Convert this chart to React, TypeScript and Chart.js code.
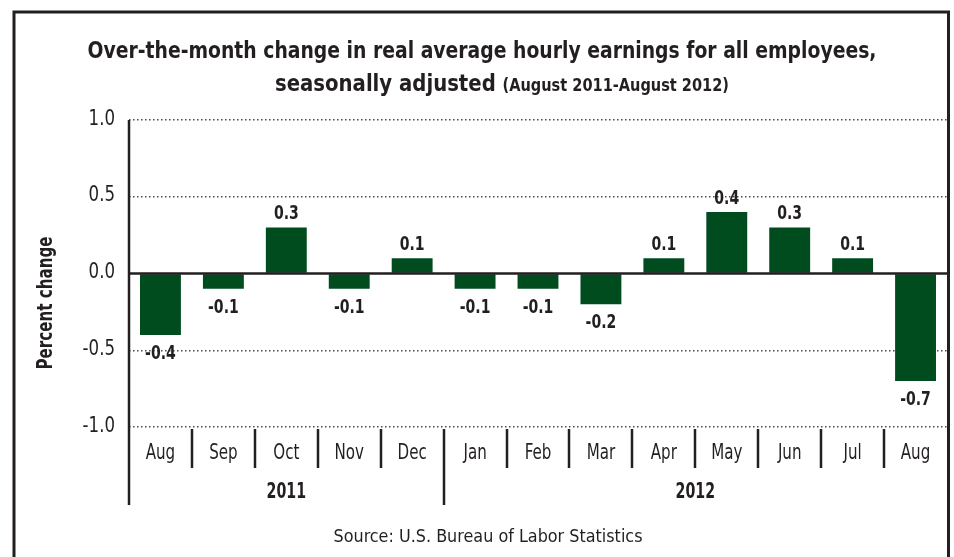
import React, { useEffect, useRef } from "react";
import { Chart, registerables } from "chart.js";

Chart.register(...registerables);

const months = ["Aug", "Sep", "Oct", "Nov", "Dec", "Jan", "Feb", "Mar", "Apr", "May", "Jun", "Jul", "Aug"];
const values = [-0.4, -0.1, 0.3, -0.1, 0.1, -0.1, -0.1, -0.2, 0.1, 0.4, 0.3, 0.1, -0.7];
const years = ["2011", "2012"];
const yearStarts = [0, 5];
const yTicks = [-1.0, -0.5, 0.0, 0.5, 1.0];
const titleLine1 = "Over-the-month change in real average hourly earnings for all employees,";
const titleLine2a = "seasonally adjusted ";
const titleLine2b = "(August 2011-August 2012)";
const yTitle = "Percent change";
const sourceText = "Source: U.S. Bureau of Labor Statistics";

const NARROW = '"Liberation Sans Narrow", "DejaVu Sans Condensed", "Arial Narrow", sans-serif';
const INK = "#231f20";
const BAR = "#014c1f";
const W = 954;
const H = 557;

// draw text horizontally compressed by sx
function drawText(ctx: any, text: string, x: number, y: number, font: string, sx: number, align: string, baseline: string) {
  ctx.save();
  ctx.font = font;
  ctx.textAlign = align;
  ctx.textBaseline = baseline;
  ctx.translate(x, y);
  ctx.scale(sx, 1);
  ctx.fillText(text, 0, 0);
  ctx.restore();
}

function fitScale(ctx: any, text: string, font: string, width: number) {
  ctx.save();
  ctx.font = font;
  const w = ctx.measureText(text).width;
  ctx.restore();
  return width / w;
}

const decor = {
  id: "decor",
  beforeDraw(chart: any) {
    const { ctx } = chart;
    ctx.save();
    ctx.fillStyle = "#ffffff";
    ctx.fillRect(0, 0, chart.width, chart.height);
    ctx.restore();
  },
  afterDatasetsDraw(chart: any) {
    const { ctx, chartArea, scales } = chart;
    const x = scales.x;
    const y = scales.y;
    ctx.save();
    ctx.fillStyle = INK;

    // zero line
    const y0 = y.getPixelForValue(0);
    ctx.strokeStyle = INK;
    ctx.lineWidth = 2.5;
    ctx.beginPath();
    ctx.moveTo(chartArea.left, y0);
    ctx.lineTo(chart.width - 4, y0);
    ctx.stroke();

    // y tick labels
    y.ticks.forEach((t: any) => {
      drawText(ctx, Number(t.value).toFixed(1), chartArea.left - 14, y.getPixelForValue(t.value) - 1, `22px ${NARROW}`, 0.84, "right", "middle");
    });

    // x tick labels
    (chart.data.labels as string[]).forEach((m, i) => {
      drawText(ctx, m, x.getPixelForValue(i), chartArea.bottom + 27, `21px ${NARROW}`, 0.8, "center", "middle");
    });

    // value labels
    const meta = chart.getDatasetMeta(0);
    meta.data.forEach((bar: any, i: number) => {
      const v = values[i];
      const label = v.toFixed(1);
      if (v >= 0) {
        drawText(ctx, label, bar.x, bar.y - 8, `bold 20px ${NARROW}`, 0.78, "center", "alphabetic");
      } else {
        drawText(ctx, label, bar.x, bar.y + 19, `bold 20px ${NARROW}`, 0.78, "center", "middle");
      }
    });

    // y axis line
    ctx.strokeStyle = INK;
    ctx.lineWidth = 2.5;
    ctx.beginPath();
    ctx.moveTo(chartArea.left, chartArea.top);
    ctx.lineTo(chartArea.left, chartArea.bottom);
    ctx.stroke();

    // category separators
    const half = (x.getPixelForValue(1) - x.getPixelForValue(0)) / 2;
    ctx.lineWidth = 2.5;
    for (let i = 0; i < months.length; i++) {
      const xs = Math.round(x.getPixelForValue(i) - half);
      const long = yearStarts.includes(i);
      ctx.beginPath();
      ctx.moveTo(xs, chartArea.bottom + (i === 0 ? 0 : 2));
      ctx.lineTo(xs, chartArea.bottom + (long ? 78 : 41));
      ctx.stroke();
    }

    // year labels
    years.forEach((yr, k) => {
      const start = x.getPixelForValue(yearStarts[k]) - half;
      const endIdx = k + 1 < yearStarts.length ? yearStarts[k + 1] : months.length;
      const end = x.getPixelForValue(endIdx - 1) + half;
      drawText(ctx, yr, (start + end) / 2, chartArea.bottom + 66, `bold 21px ${NARROW}`, 0.75, "center", "middle");
    });

    // y title
    ctx.save();
    ctx.translate(47, 303);
    ctx.rotate(-Math.PI / 2);
    const yf = `bold 21px ${NARROW}`;
    drawText(ctx, yTitle, 0, 0, yf, fitScale(ctx, yTitle, yf, 133), "center", "middle");
    ctx.restore();

    // title
    const f1 = `bold 23px ${NARROW}`;
    drawText(ctx, titleLine1, 482, 58, f1, fitScale(ctx, titleLine1, f1, 789), "center", "alphabetic");
    const f2a = `bold 23px ${NARROW}`;
    const f2b = `bold 17px ${NARROW}`;
    ctx.font = f2a;
    const wa = ctx.measureText(titleLine2a).width;
    ctx.font = f2b;
    const wb = ctx.measureText(titleLine2b).width;
    const s2 = 454 / (wa + wb);
    const startX = 275;
    drawText(ctx, titleLine2a, startX, 91, f2a, s2, "left", "alphabetic");
    drawText(ctx, titleLine2b, startX + wa * s2, 91, f2b, s2, "left", "alphabetic");

    // source
    const fs = `18px ${NARROW}`;
    drawText(ctx, sourceText, 488, 537, fs, fitScale(ctx, sourceText, fs, 309), "center", "middle");

    // frame
    ctx.strokeStyle = INK;
    ctx.lineWidth = 3;
    ctx.beginPath();
    ctx.moveTo(14, H + 2);
    ctx.lineTo(14, 12);
    ctx.lineTo(948.5, 12);
    ctx.lineTo(948.5, H + 2);
    ctx.stroke();
    ctx.restore();
  },
};

export default function App() {
  const ref = useRef<HTMLCanvasElement | null>(null);
  useEffect(() => {
    if (!ref.current) return;
    const chart = new Chart(ref.current, {
      type: "bar",
      data: {
        labels: months,
        datasets: [
          {
            data: values,
            backgroundColor: BAR,
            borderWidth: 0,
            barPercentage: 0.65,
            categoryPercentage: 1,
          },
        ],
      },
      options: {
        animation: false,
        responsive: false,
        events: [],
        layout: { padding: { top: 120, right: 7, bottom: 0, left: 14 } },
        plugins: { legend: { display: false }, tooltip: { enabled: false }, title: { display: false } },
        scales: {
          x: {
            grid: { display: false, drawTicks: false },
            border: { display: false },
            ticks: { display: false, autoSkip: false },
            afterFit: (s: any) => {
              s.height = H - 427;
            },
          },
          y: {
            min: -1,
            max: 1,
            afterBuildTicks: (s: any) => {
              s.ticks = yTicks.map((v) => ({ value: v }));
            },
            grid: {
              color: (c: any) => (c.tick && c.tick.value === 0 ? "rgba(0,0,0,0)" : "#4a4a4a"),
              lineWidth: 1.5,
              drawTicks: false,
            },
            border: { display: false, dash: [1.5, 2.5] },
            ticks: { display: false },
            afterFit: (s: any) => {
              s.width = 129 - 14;
            },
          },
        },
      },
      plugins: [decor],
    });
    return () => chart.destroy();
  }, []);
  return (
    <div style={{ position: "absolute", left: 0, top: 0, width: W, height: H }}>
      <canvas ref={ref} width={W} height={H} style={{ display: "block" }} />
    </div>
  );
}
